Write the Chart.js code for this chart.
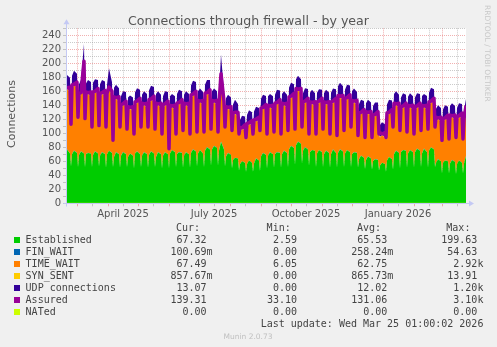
<!DOCTYPE html>
<html>
<head>
<meta charset="utf-8">
<script src="https://cdn.jsdelivr.net/npm/chart.js@4.4.1/dist/chart.umd.min.js"></script>
<style>
  html, body { margin: 0; padding: 0; background: #f0f0f0; }
  canvas { display: block; }
</style>
</head>
<body>
<canvas id="fw" width="497" height="347"></canvas>
<script>
// x values are days counted from 1 Jan 2025
const firstMonday = 47;           // Mon 17 Feb 2025
const rowDays = [0, 2, 5, 6];     // each weekly row: Mon, Wed, Sat, Sun
const rangeStart = 48;            // 400 days before the last update
const rangeEnd = 448;             // 25 Mar 2026

const monthStarts = [59, 90, 120, 151, 181, 212, 243, 273, 304, 334, 365, 396, 424];
const midMonths = [74, 105, 135, 166, 196, 227, 258, 288, 319, 349, 380, 411, 439];
const midMonthLabels = ['', 'April 2025', '', '', 'July 2025', '', '', 'October 2025', '', '', 'January 2026', '', ''];

const established = [
  [72, 77, 71, 53], [70, 75, 72, 52], [69, 74, 71, 52], [70, 72, 71, 52], [69, 74, 71, 53],
  [68, 73, 70, 51], [70, 75, 72, 52], [66, 73, 70, 51], [68, 73, 70, 52], [66, 71, 68, 50],
  [71, 74, 70, 52], [68, 73, 70, 51], [69, 74, 71, 52], [66, 73, 70, 50], [68, 73, 70, 50],
  [71, 76, 73, 52], [70, 73, 72, 51], [68, 73, 70, 51], [72, 77, 74, 53], [71, 76, 71, 52],
  [75, 80, 77, 54], [77, 82, 79, 54], [75, 88, 77, 53], [67, 72, 69, 50], [62, 65, 64, 47],
  [56, 60, 58, 45], [56, 61, 58, 45], [57, 64, 61, 46], [67, 72, 69, 50], [68, 73, 70, 51],
  [70, 73, 72, 51], [70, 75, 72, 52], [77, 82, 79, 55], [83, 88, 85, 57], [75, 80, 77, 54],
  [73, 76, 75, 52], [71, 76, 73, 52], [70, 75, 72, 51], [70, 77, 72, 51], [72, 77, 74, 52],
  [71, 76, 73, 52], [70, 73, 72, 51], [63, 68, 65, 49], [62, 67, 64, 48], [60, 63, 62, 47],
  [54, 58, 56, 45], [61, 66, 63, 48], [70, 75, 72, 50], [73, 76, 75, 51], [71, 76, 73, 51],
  [73, 78, 75, 52], [71, 78, 73, 51], [75, 80, 77, 52], [58, 63, 60, 43], [58, 61, 60, 43],
  [57, 62, 59, 42], [56, 61, 58, 43], [57, 67.32]
];

const timeWait = [
  [87, 86, 88, 58], [92, 93, 94, 69], [81, 82, 89, 67], [82, 84, 81, 55], [83, 84, 86, 56],
  [82, 83, 84, 56], [80, 89, 81, 36], [79, 76, 75, 56], [66, 67, 69, 52], [65, 64, 63, 47],
  [67, 70, 73, 55], [68, 67, 66, 56], [72, 73, 75, 52], [70, 67, 66, 47], [66, 67, 69, 26],
  [62, 61, 60, 45], [66, 69, 69, 51], [68, 67, 66, 46], [76, 77, 79, 47], [69, 68, 69, 48],
  [75, 76, 78, 50], [63, 62, 61, 46], [60, 74, 62, 54], [64, 63, 62, 52], [60, 63, 59, 50],
  [45, 46, 47, 47], [51, 52, 53, 52], [55, 54, 55, 56], [62, 63, 65, 47], [65, 64, 63, 49],
  [66, 69, 69, 46], [66, 65, 64, 50], [68, 69, 71, 49], [74, 73, 72, 50], [63, 64, 66, 43],
  [65, 66, 63, 45], [67, 68, 70, 52], [68, 67, 66, 46], [68, 67, 71, 44], [75, 74, 73, 50],
  [72, 73, 75, 55], [70, 71, 68, 44], [59, 60, 62, 43], [62, 61, 60, 44], [59, 62, 62, 50],
  [40, 39, 38, 47], [61, 62, 64, 59], [66, 65, 64, 52], [58, 61, 61, 49], [62, 61, 60, 46],
  [58, 59, 61, 50], [62, 59, 60, 53], [63, 64, 66, 55], [58, 57, 56, 45], [56, 59, 59, 47],
  [62, 61, 60, 50], [61, 62, 64, 47], [57, 67.49]
];

const udp = [
  [18, 19, 19, 8], [19, 20, 18, 9], [19, 19, 67, 8], [18, 19, 20, 8], [19, 18, 18, 8],
  [19, 19, 19, 9], [18, 28, 19, 8], [19, 19, 18, 8], [18, 19, 19, 8], [19, 18, 19, 8],
  [19, 19, 18, 9], [18, 19, 19, 8], [19, 20, 19, 8], [19, 19, 18, 8], [18, 19, 19, 7],
  [19, 18, 19, 8], [19, 19, 18, 8], [18, 19, 19, 8], [19, 20, 19, 9], [19, 19, 18, 8],
  [18, 19, 20, 8], [19, 19, 19, 8], [19, 49, 19, 8], [18, 19, 19, 8], [18, 19, 18, 8],
  [17, 18, 18, 8], [18, 19, 18, 8], [18, 19, 19, 8], [19, 19, 18, 8], [19, 18, 19, 8],
  [18, 19, 19, 9], [19, 19, 18, 8], [19, 20, 19, 8], [19, 20, 19, 8], [18, 19, 19, 8],
  [19, 19, 18, 8], [19, 18, 18, 8], [18, 19, 19, 8], [19, 19, 19, 8], [19, 20, 19, 9],
  [18, 19, 19, 8], [19, 19, 18, 8], [19, 19, 18, 8], [18, 19, 19, 8], [19, 18, 19, 8],
  [17, 18, 18, 8], [18, 19, 19, 8], [19, 19, 18, 8], [19, 19, 18, 8], [18, 19, 19, 8],
  [19, 19, 19, 9], [19, 18, 19, 8], [19, 20, 19, 8], [18, 19, 19, 8], [19, 19, 18, 8],
  [19, 19, 19, 8], [18, 19, 19, 8], [18, 13.07]
];

const assured = [
  [166, 165, 166, 113], [169, 170, 173, 123], [157, 158, 203, 121], [159, 158, 159, 109], [159, 160, 164, 111],
  [157, 158, 161, 109], [157, 166, 160, 90], [152, 151, 152, 109], [141, 142, 146, 106], [138, 137, 138, 99],
  [145, 146, 150, 109], [143, 142, 143, 109], [148, 149, 153, 106], [143, 142, 143, 99], [141, 142, 146, 78],
  [140, 139, 140, 99], [143, 144, 148, 104], [143, 142, 143, 99], [155, 156, 160, 102], [147, 146, 147, 102],
  [157, 158, 162, 106], [147, 146, 147, 102], [142, 185, 146, 109], [138, 137, 138, 104], [129, 130, 130, 99],
  [108, 108, 112, 94], [114, 115, 118, 99], [119, 120, 123, 104], [136, 137, 141, 99], [140, 139, 140, 102],
  [143, 144, 148, 99], [143, 142, 143, 104], [152, 153, 157, 106], [164, 163, 164, 109], [145, 146, 150, 99],
  [145, 144, 145, 99], [145, 146, 150, 106], [145, 144, 145, 99], [145, 146, 150, 97], [154, 153, 154, 104],
  [150, 151, 155, 109], [147, 146, 147, 97], [129, 130, 134, 94], [131, 130, 131, 94], [126, 127, 131, 99],
  [101, 99, 101, 94], [129, 130, 134, 109], [143, 142, 143, 104], [138, 139, 143, 102], [140, 139, 140, 99],
  [138, 139, 143, 104], [140, 139, 140, 106], [145, 146, 150, 109], [123, 122, 123, 90], [121, 122, 126, 92],
  [126, 125, 126, 94], [124, 125, 129, 92], [121, 139.31]
];

// one reading per week
const finWait = [
  0.3, 0.3, 0.2, 0.3, 0.4, 0.3, 0.2, 0.3, 0.3, 0.2,
  0.3, 0.3, 0.2, 0.3, 0.2, 0.3, 0.3, 0.2, 0.3, 0.3,
  0.3, 0.2, 0.4, 0.3, 0.2, 0.2, 0.2, 0.3, 0.3, 0.2,
  0.3, 0.3, 0.2, 0.3, 0.3, 0.2, 0.3, 0.3, 0.2, 0.3,
  0.3, 0.2, 0.2, 0.2, 0.2, 0.1, 0.2, 0.3, 0.3, 0.2,
  0.3, 0.3, 0.2, 0.2, 0.3, 0.2, 0.2, 0.1
];
const synSent = [
  0.9, 0.9, 0.8, 0.9, 0.9, 0.8, 0.9, 0.9, 0.8, 0.9,
  0.9, 0.9, 0.8, 0.9, 0.9, 0.8, 0.9, 0.9, 0.9, 0.8,
  0.9, 0.9, 1.0, 0.9, 0.8, 0.8, 0.8, 0.8, 0.9, 0.9,
  0.9, 0.8, 0.9, 1.0, 0.9, 0.9, 0.8, 0.9, 0.9, 0.9,
  0.9, 0.8, 0.8, 0.8, 0.8, 0.7, 0.8, 0.9, 0.9, 0.9,
  0.8, 0.9, 0.9, 0.8, 0.8, 0.9, 0.8, 0.86
];
const nated = [
  0, 0, 0, 0, 0, 0, 0, 0, 0, 0,
  0, 0, 0, 0, 0, 0, 0, 0, 0, 0,
  0, 0, 0, 0, 0, 0, 0, 0, 0, 0,
  0, 0, 0, 0, 0, 0, 0, 0, 0, 0,
  0, 0, 0, 0, 0, 0, 0, 0, 0, 0,
  0, 0, 0, 0, 0, 0, 0, 0
];

const legendNames = ['Established', 'FIN_WAIT', 'TIME_WAIT', 'SYN_SENT', 'UDP connections', 'Assured', 'NATed'];
const legendColors = ['#00cc00', '#0066b3', '#ff8000', '#ffcc00', '#330099', '#990099', '#ccff00'];
const curValues = ['67.32 ', '100.69m', '67.49 ', '857.67m', '13.07 ', '139.31 ', '0.00 '];
const minValues = ['2.59 ', '0.00 ', '6.05 ', '0.00 ', '0.00 ', '33.10 ', '0.00 '];
const avgValues = ['65.53 ', '258.24m', '62.75 ', '865.73m', '12.02 ', '131.06 ', '0.00 '];
const maxValues = ['199.63 ', '54.63 ', '2.92k', '13.91 ', '1.20k', '3.10k', '0.00 '];
const lastUpdate = 'Last update: Wed Mar 25 01:00:02 2026';

const majorGrid = 'rgba(225, 80, 80, 0.45)';
const minorGrid = 'rgba(140, 140, 140, 0.45)';
const axisBlue = '#c4c9f4';

function toPoints(rows) {
  const pts = [];
  rows.forEach((row, w) => {
    row.forEach((v, k) => pts.push({ x: firstMonday + 7 * w + rowDays[k], y: v }));
  });
  return pts;
}

// weekly readings are held over the days of their week
function weeklyPoints(values) {
  return toPoints(values.map((v, w) => established[w].map(() => v)));
}

function area(label, data, color, fill) {
  return {
    label, data, fill,
    backgroundColor: color,
    borderColor: 'rgba(0,0,0,0)',
    borderWidth: 0,
    pointRadius: 0,
    tension: 0
  };
}

const muninFrame = {
  id: 'muninFrame',
  beforeDraw(chart) {
    const { ctx, chartArea: a } = chart;
    ctx.save();
    ctx.fillStyle = '#f0f0f0';
    ctx.fillRect(0, 0, chart.width, chart.height);
    ctx.fillStyle = '#ffffff';
    ctx.fillRect(a.left, a.top, a.right - a.left, a.bottom - a.top);
    ctx.restore();
  },
  afterDraw(chart) {
    const { ctx, chartArea: a } = chart;
    ctx.save();

    // axes and their arrow heads
    const yb = Math.round(a.bottom) + 0.5;
    const xl = Math.round(a.left) + 0.5;
    ctx.strokeStyle = axisBlue;
    ctx.fillStyle = axisBlue;
    ctx.lineWidth = 1;
    ctx.beginPath();
    ctx.moveTo(xl - 3, yb);
    ctx.lineTo(a.right + 4, yb);
    ctx.moveTo(xl, yb + 3);
    ctx.lineTo(xl, a.top - 5);
    ctx.stroke();
    ctx.beginPath();
    ctx.moveTo(a.right + 8, yb);
    ctx.lineTo(a.right + 3, yb - 3);
    ctx.lineTo(a.right + 3, yb + 3);
    ctx.closePath();
    ctx.fill();
    ctx.beginPath();
    ctx.moveTo(xl, a.top - 9);
    ctx.lineTo(xl - 3, a.top - 4);
    ctx.lineTo(xl + 3, a.top - 4);
    ctx.closePath();
    ctx.fill();

    // title and vertical label
    ctx.fillStyle = '#555';
    ctx.textBaseline = 'alphabetic';
    ctx.textAlign = 'center';
    ctx.font = '12.6px "DejaVu Sans"';
    ctx.fillText('Connections through firewall - by year', 248.5, 24.7);
    ctx.save();
    ctx.translate(14.8, 114);
    ctx.rotate(-Math.PI / 2);
    ctx.font = '11px "DejaVu Sans"';
    ctx.fillText('Connections', 0, 0);
    ctx.restore();

    // legend table
    ctx.font = '10px "DejaVu Sans Mono"';
    ctx.fillStyle = '#444';
    ctx.textAlign = 'right';
    ctx.fillText('Cur:', 200.1, 231.3);
    ctx.fillText('Min:', 290.7, 231.3);
    ctx.fillText('Avg:', 381, 231.3);
    ctx.fillText('Max:', 470.4, 231.3);
    legendNames.forEach((name, i) => {
      const base = 243.3 + 12 * i;
      ctx.fillStyle = legendColors[i];
      ctx.fillRect(14, base - 6.3, 6, 6);
      ctx.fillStyle = '#444';
      ctx.textAlign = 'left';
      ctx.fillText(name, 25.6, base);
      ctx.textAlign = 'right';
      ctx.fillText(curValues[i], 212.6, base);
      ctx.fillText(minValues[i], 303, base);
      ctx.fillText(avgValues[i], 393.3, base);
      ctx.fillText(maxValues[i], 483.4, base);
    });
    ctx.fillText(lastUpdate, 483.4, 327.3);

    // footer and side credit
    ctx.textAlign = 'center';
    ctx.fillStyle = '#c0c0c0';
    ctx.font = '7.5px "DejaVu Sans"';
    ctx.fillText('Munin 2.0.73', 248, 338.5);
    ctx.save();
    ctx.translate(485, 5);
    ctx.rotate(Math.PI / 2);
    ctx.textAlign = 'left';
    ctx.fillStyle = '#c8c8c8';
    ctx.fillText('RRDTOOL / TOBI OETIKER', 0, 0);
    ctx.restore();

    ctx.restore();
  }
};

Chart.defaults.font.family = '"DejaVu Sans", sans-serif';

const ctx = document.getElementById('fw').getContext('2d');
new Chart(ctx, {
  type: 'line',
  data: {
    datasets: [
      area('Established', toPoints(established), '#00cc00', 'origin'),
      area('FIN_WAIT', weeklyPoints(finWait), '#0066b3', '-1'),
      area('TIME_WAIT', toPoints(timeWait), '#ff8000', '-1'),
      area('SYN_SENT', weeklyPoints(synSent), '#ffcc00', '-1'),
      area('UDP connections', toPoints(udp), '#330099', '-1'),
      {
        label: 'Assured',
        data: toPoints(assured),
        stack: 'assured',
        order: -1,
        fill: false,
        borderColor: '#990099',
        borderWidth: 3.5,
        borderJoinStyle: 'round',
        pointRadius: 0,
        tension: 0,
        clip: 0
      },
      {
        label: 'NATed',
        data: weeklyPoints(nated),
        stack: 'nated',
        order: -2,
        fill: false,
        borderColor: '#ccff00',
        borderWidth: 1,
        pointRadius: 0,
        tension: 0
      }
    ]
  },
  options: {
    responsive: false,
    animation: false,
    layout: { padding: { left: 0, right: 31, top: 28.3, bottom: 123.7 } },
    plugins: { legend: { display: false }, tooltip: { enabled: false } },
    scales: {
      x: {
        type: 'linear',
        min: rangeStart,
        max: rangeEnd,
        bounds: 'data',
        z: 1,
        afterFit: s => { s.height = 20; },
        afterBuildTicks: s => {
          const all = monthStarts.map(v => ({ value: v, major: true }))
            .concat(midMonths.map(v => ({ value: v })));
          s.ticks = all.filter(t => t.value >= rangeStart && t.value <= rangeEnd)
            .sort((p, q) => p.value - q.value);
        },
        grid: {
          color: c => (c.tick && c.tick.major ? majorGrid : minorGrid),
          tickColor: c => (c.tick && c.tick.major ? majorGrid : minorGrid),
          tickLength: 3,
          lineWidth: 1
        },
        border: { display: false, dash: [1, 1] },
        ticks: {
          autoSkip: false,
          maxRotation: 0,
          padding: 2,
          color: '#555',
          font: { size: 10 },
          callback: v => {
            const i = midMonths.indexOf(v);
            return i >= 0 ? midMonthLabels[i] : '';
          }
        }
      },
      y: {
        stacked: true,
        min: 0,
        max: 250,
        z: 1,
        afterFit: s => { s.width = 66; },
        grid: {
          color: c => (c.tick && c.tick.value % 20 === 0 ? majorGrid : minorGrid),
          tickColor: minorGrid,
          tickLength: 3,
          lineWidth: 1
        },
        border: { display: false, dash: [1, 1] },
        ticks: {
          stepSize: 10,
          autoSkip: false,
          padding: 2,
          color: '#555',
          font: { size: 10 },
          callback: v => (v % 20 === 0 ? String(v) : '')
        }
      }
    }
  },
  plugins: [muninFrame]
});
</script>
</body>
</html>
